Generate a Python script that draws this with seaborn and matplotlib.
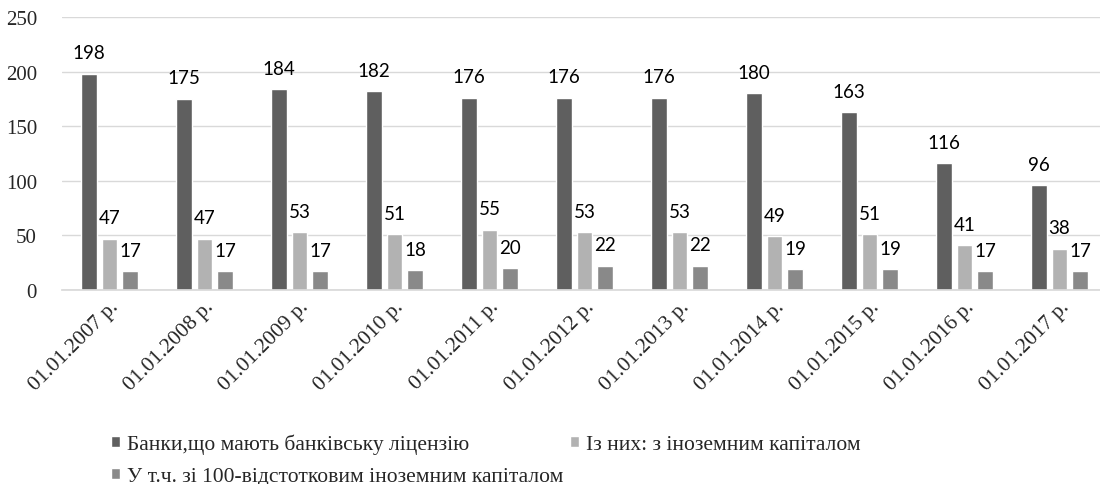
import matplotlib
matplotlib.use("Agg")
import matplotlib.pyplot as plt
import seaborn as sns
import pandas as pd

dates = ["01.01.2007 р.", "01.01.2008 р.", "01.01.2009 р.", "01.01.2010 р.",
         "01.01.2011 р.", "01.01.2012 р.", "01.01.2013 р.", "01.01.2014 р.",
         "01.01.2015 р.", "01.01.2016 р.", "01.01.2017 р."]
licensed = [198, 175, 184, 182, 176, 176, 176, 180, 163, 116, 96]
foreign = [47, 47, 53, 51, 55, 53, 53, 49, 51, 41, 38]
full_foreign = [17, 17, 17, 18, 20, 22, 22, 19, 19, 17, 17]
series = ["Банки,що мають банківську ліцензію",
          "Із них: з іноземним капіталом",
          "У т.ч. зі 100-відстотковим іноземним капіталом"]
colors = ["#5f5f5f", "#b2b2b2", "#898989"]

rows = []
for name, vals in zip(series, [licensed, foreign, full_foreign]):
    for d, v in zip(dates, vals):
        rows.append({"date": d, "series": name, "value": v})
df = pd.DataFrame(rows)

sns.set_theme(style="white")
serif = ['Liberation Serif', 'DejaVu Serif']
plt.rcParams['font.family'] = serif

fig = plt.figure(figsize=(11, 4.85), dpi=100)
ax = fig.add_axes([62 / 1100, 1 - 291 / 485, 1045 / 1100, 273 / 485])

sns.barplot(data=df, x="date", y="value", hue="series", palette=colors,
            width=0.66, gap=0.24, ax=ax, legend=True)

ax.set_ylim(0, 250)
ax.set_yticks(range(0, 251, 50))
ax.set_xlim(-0.5, len(dates) - 0.5)
ax.yaxis.grid(True, color="#d9d9d9", linewidth=1)
ax.set_axisbelow(True)
for s in ["top", "right", "left"]:
    ax.spines[s].set_visible(False)
ax.spines["bottom"].set_color("#d9d9d9")
ax.tick_params(axis="y", length=0, pad=18)
ax.tick_params(axis="x", length=0, pad=5)
ax.set_xlabel("")
ax.set_ylabel("")
for lbl in ax.get_yticklabels():
    lbl.set_fontfamily(serif)
    lbl.set_fontsize(15)
for lbl in ax.get_xticklabels():
    lbl.set_fontfamily(serif)
    lbl.set_fontsize(15.5)
    lbl.set_rotation(45)
    lbl.set_ha("right")
    lbl.set_rotation_mode("anchor")

for c in ax.containers:
    ax.bar_label(c, padding=9, fontsize=13.5, family="Lato", color="#000000")

handles, labels = ax.get_legend_handles_labels()
ax.legend_.remove()
order = [0, 2, 1]
leg = fig.legend([handles[i] for i in order], [labels[i] for i in order],
                 loc="upper left", bbox_to_anchor=(100 / 1100, 1 - 424 / 485),
                 ncol=2, frameon=False, prop={"family": serif, "size": 15.5},
                 handlelength=0.45, handleheight=0.45, handletextpad=0.3,
                 columnspacing=0.3, labelspacing=0.6, borderpad=0)

fig.savefig("out.png", dpi=100)
